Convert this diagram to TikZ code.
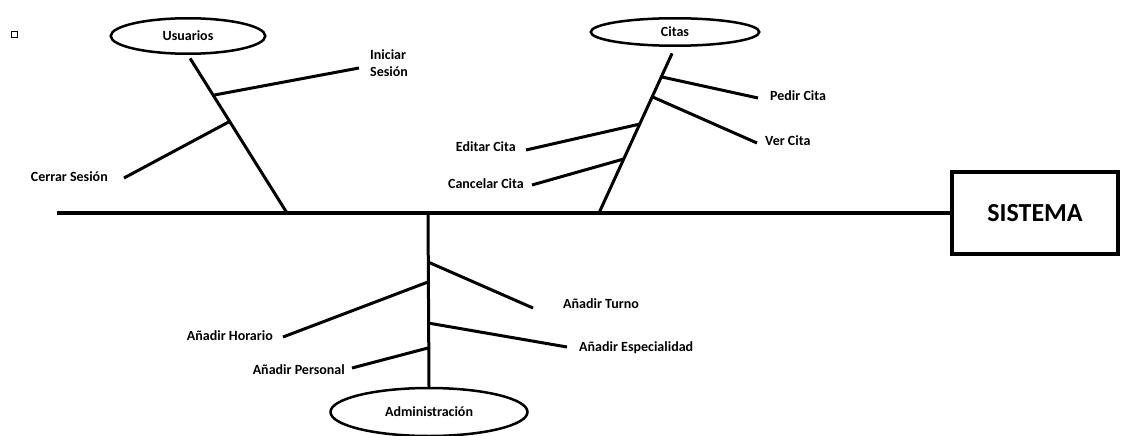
\documentclass[tikz,border=0pt]{standalone}
\usepackage{fontspec}
\setmainfont{Carlito}
\usetikzlibrary{shapes.geometric, positioning}

\begin{document}
\begin{tikzpicture}[x=1pt, y=-1pt, bone/.style={line width=3pt}, spine line/.style={line width=4.5pt}, cat node/.style={ellipse, draw, line width=2.5pt, inner sep=0pt, font=\bfseries\fontsize{14}{17}\selectfont}, text node/.style={font=\bfseries\fontsize{14}{17}\selectfont, inner sep=0pt, text height=9pt, text depth=0pt}, sys node/.style={rectangle, draw, line width=4pt, minimum width=166pt, minimum height=82pt, font=\bfseries\fontsize{26}{30}\selectfont}]
\useasboundingbox (0,0) rectangle (1121,436);
\node[draw, line width=.6pt, minimum size=6pt, inner sep=0pt] (bullet) at (14,34) {};
\node[cat node, minimum width=154.5pt, minimum height=35.5pt] (usuarios) at (188,36) {Usuarios};
\node[cat node, minimum width=168.5pt, minimum height=27.5pt] (citas) at (675,32) {Citas};
\node[cat node, minimum width=197pt, minimum height=48pt] (admin) at (429,412) {Administración};
\node[sys node] (sistema) at (1035,213) {SISTEMA};
\coordinate (tail) at (57,213);
\coordinate (uj) at (287,213);
\coordinate (cj) at (599,213);
\coordinate (aj) at (428,213);
\draw[spine line] (tail) -- (sistema);
\draw[bone, shorten <=4pt] (usuarios.south) -- (uj);
\draw[bone, shorten <=7pt] (citas.south) -- (cj);
\draw[bone] (aj) -- (admin.north);
% small bones
\foreach \n/\jx/\jy/\ex/\ey in {ini/214.5/95/359/68, cer/230.5/121/124/178, ped/662/77/758/98, ver/652.7/97/757/143, edi/640/124/526/150, can/623.7/159/532/185, tur/428/262/533/308, hor/428/282/283/337, esp/428/323/567/347, per/428/348/352/368}{
    \coordinate (\n-j) at (\jx,\jy);
    \coordinate (\n-e) at (\ex,\ey);
    \draw[bone] (\n-j) -- (\n-e);}
\node[text node, align=left, text height={}, text depth={}, right=11pt of ini-e, yshift=4.5pt] (iniciar) {Iniciar\\Sesión};
\node[text node, left=16pt of cer-e, yshift=1pt] (cerrar) {Cerrar Sesión};
\node[text node, right=12pt of ped-e, yshift=2pt] (pedir) {Pedir Cita};
\node[text node, right=8pt of ver-e, yshift=2pt] (vercita) {Ver Cita};
\node[text node, left=10pt of edi-e, yshift=3pt] (editar) {Editar Cita};
\node[text node, left=8pt of can-e, yshift=1pt] (cancelar) {Cancelar Cita};
\node[text node, right=30pt of tur-e, yshift=4pt] (turno) {Añadir Turno};
\node[text node, left=10pt of hor-e, yshift=1pt] (horario) {Añadir Horario};
\node[text node, right=12pt of esp-e] (especialidad) {Añadir Especialidad};
\node[text node, left=7pt of per-e, yshift=-2pt] (personal) {Añadir Personal};
\end{tikzpicture}
\end{document}
